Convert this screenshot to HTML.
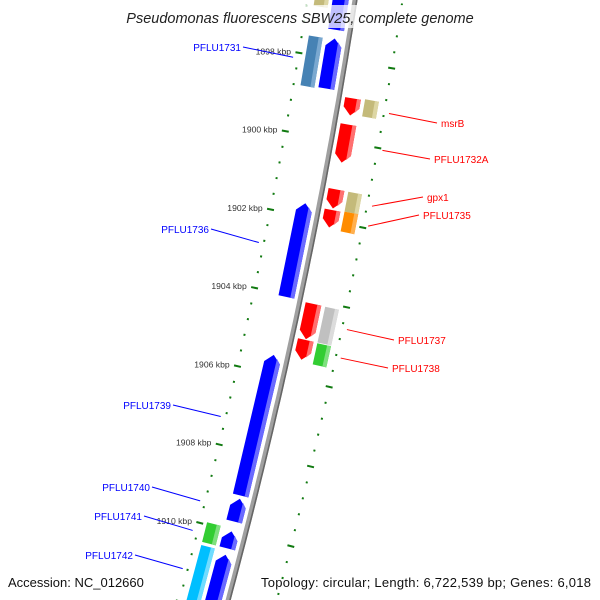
<!DOCTYPE html>
<html><head><meta charset="utf-8"><style>
html,body{margin:0;padding:0;background:#fff;overflow:hidden;}
svg{display:block;font-family:"Liberation Sans",sans-serif;}
</style></head><body>
<svg id="map" width="600" height="600" viewBox="0 0 600 600" xmlns="http://www.w3.org/2000/svg">
<rect width="600" height="600" fill="#fff"/>
<g id="ticks"></g>
<g id="backbone"></g>
<g id="genes"></g>
<g id="labels"></g>
<rect x="115" y="5" width="370" height="23" fill="#fff" fill-opacity="0.75"/>
<text x="300" y="23" text-anchor="middle" font-size="14.5" font-style="italic" fill="#222">Pseudomonas fluorescens SBW25, complete genome</text>
<text x="8" y="587" font-size="13" fill="#111">Accession: NC_012660</text>
<text x="261" y="587" textLength="330" lengthAdjust="spacing" font-size="13" fill="#111">Topology: circular; Length: 6,722,539 bp; Genes: 6,018</text>
</svg>
<script>
const geneNames=["","","PFLU1731","PFLU1731b","msrB","msrBb","PFLU1732A","gpx1","gpx1b","PFLU1735","PFLU1735b","PFLU1736","PFLU1737","PFLU1737b","PFLU1738","PFLU1738b","PFLU1739","PFLU1740","PFLU1741","PFLU1741b","PFLU1742","PFLU1742b"];
const geneStart=[1895.0,1895.0,1897.5,1897.53,1898.9,1898.87,1899.56,1901.2,1901.2,1901.72,1901.7,1901.68,1904.09,1904.1,1905.0,1905.02,1905.53,1909.18,1910.01,1909.94,1910.6,1910.52];
const geneEnd=[1897.28,1896.77,1898.77,1898.8,1899.33,1899.3,1900.52,1901.68,1901.7,1902.16,1902.2,1904.06,1904.98,1905.0,1905.5,1905.55,1909.1,1909.76,1910.44,1910.44,1913.0,1913.0];
const geneLane=[-1,-2,-1,-2,1,2,1,1,2,1,2,-1,1,2,1,2,-1,-1,-1,-2,-1,-2];
const geneColor=["#0000ff","#c4ba7a","#0000ff","#4682b4","#ff0000","#c4ba7a","#ff0000","#ff0000","#c4ba7a","#ff0000","#ff8c00","#0000ff","#ff0000","#c0c0c0","#ff0000","#32cd32","#0000ff","#0000ff","#0000ff","#32cd32","#0000ff","#00bfff"];
const geneLight=["#6a6aff","#ddd6a4","#6a6aff","#7aa8d0","#ff7070","#ddd6a4","#ff7070","#ff7070","#ddd6a4","#ff7070","#ffb050","#6a6aff","#ff7070","#dcdcdc","#ff7070","#7ee07e","#6a6aff","#6a6aff","#6a6aff","#7ee07e","#6a6aff","#70dcff"];
const geneArrow=[0,0,-1,0,1,0,1,1,0,1,0,-1,1,0,1,0,-1,-1,-1,0,-1,0];
const labelText=["PFLU1731","msrB","PFLU1732A","gpx1","PFLU1735","PFLU1736","PFLU1737","PFLU1738","PFLU1739","PFLU1740","PFLU1741","PFLU1742"];
const labelGene=[2,4,6,7,9,11,12,14,16,17,18,20];
const labelX=[241,441,434,427,423,209,398,392,171,150,142,133];
const labelY=[47,123,159,197,215,229,340,368,405,487,516,555];
const tickMajor=[1896,1898,1900,1902,1904,1906,1908,1910,1912];
const tickLabels=["1896 kbp","1898 kbp","1900 kbp","1902 kbp","1904 kbp","1906 kbp","1908 kbp","1910 kbp","1912 kbp"];

const NS="http://www.w3.org/2000/svg";
const A=-0.155,B=-9.4e-5;
function bx(y){return 355+A*y+B*y*y;}
function yk(k){return 60.5+(k-1898)*39.5;}
function pt(k,off){const y=yk(k);const d=A+2*B*y;const n=Math.hypot(1,d);return [bx(y)+off/n,y-off*d/n];}
function mk(tag,attrs,parent){const e=document.createElementNS(NS,tag);for(const a in attrs)e.setAttribute(a,attrs[a]);parent.appendChild(e);return e;}
function ps(arr){return arr.map(p=>p[0].toFixed(1)+","+p[1].toFixed(1)).join(" ");}

const bb=document.getElementById("backbone");
let pts=[];for(let y=-20;y<=620;y+=10)pts.push([bx(y),y]);
const b1=mk("polyline",{points:ps(pts),fill:"none",stroke:"#a0a0a0","stroke-width":5},bb);


let pts2=[];for(let y=-20;y<=620;y+=10)pts2.push([bx(y)+1.8,y]);
const b2=mk("polyline",{points:ps(pts2),fill:"none",stroke:"#666","stroke-width":1.6},bb);



const tg=document.getElementById("ticks");
for(let i=0;i<=42;i++){
  const k=1895.6+i*0.4;
  const major=Math.abs(k-Math.round(k))<0.01&&Math.round(k)%2===0;
  [-47,47].forEach(off=>{
    const h=major?3.5:1;
    const p1=pt(k,off-h),p2=pt(k,off+h);
    const l=mk("line",{x1:p1[0],y1:p1[1],x2:p2[0],y2:p2[1],stroke:"#117a11","stroke-width":2},tg);
    
    
  });
}
tickMajor.forEach((k,i)=>{
  const p=pt(k,-55);
  if(p[1]<35||p[1]>580)return;
  const t=mk("text",{x:p[0],y:p[1]+3,"text-anchor":"end","font-size":8.6,fill:"#333"},tg);
  t.textContent=tickLabels[i];
  
  
});

const gg=document.getElementById("genes");
function laneOff(l){const s=Math.sign(l);const a=Math.abs(l)===1?[6,22]:[26,40];return [s*a[0],s*a[1]];}
geneStart.forEach((s,i)=>{
  const e=geneEnd[i];const [o1,o2]=laneOff(geneLane[i]);const m=(o1+o2)/2;
  const h=Math.min(0.2,(e-s)/2);
  let poly,light;
  const rightO=Math.max(o1,o2),rightIn=rightO-4;
  if(geneArrow[i]===1){
    poly=[pt(s,o1),pt(s,o2),pt(e-h,o2),pt(e,m),pt(e-h,o1)];
    light=[pt(s,rightIn),pt(s,rightO),pt(e-h,rightO),pt(e-h*0.4,rightIn)];
  }else if(geneArrow[i]===-1){
    poly=[pt(s,m),pt(s+h,o2),pt(e,o2),pt(e,o1),pt(s+h,o1)];
    light=[pt(s+h*0.4,rightIn),pt(s+h,rightO),pt(e,rightO),pt(e,rightIn)];
  }else{
    poly=[pt(s,o1),pt(s,o2),pt(e,o2),pt(e,o1)];
    light=[pt(s,rightIn),pt(s,rightO),pt(e,rightO),pt(e,rightIn)];
  }
  const g=mk("g",{},gg);
  
  
  mk("polygon",{points:ps(poly),fill:geneColor[i]},g);
  mk("polygon",{points:ps(light),fill:geneLight[i]},g);
});

const lg=document.getElementById("labels");
labelText.forEach((t,i)=>{
  const gi=labelGene[i];
  let mid=(geneStart[gi]+geneEnd[gi])/2;
  if(geneEnd[gi]>1912)mid=geneStart[gi]+0.6;
  const side=Math.sign(geneLane[gi]);
  const p=pt(mid,side*52);
  const col=side<0?"#0000ff":"#ff0000";
  const x1=side<0?labelX[i]+2:labelX[i]-4;
  const ln=mk("line",{x1:x1,y1:labelY[i],x2:p[0],y2:p[1],stroke:col,"stroke-width":1},lg);
  
  
  const tx=mk("text",{x:labelX[i],y:labelY[i]+4,"text-anchor":side<0?"end":"start","font-size":10,fill:col},lg);
  tx.textContent=t;
  
  
});
</script>
</body></html>
